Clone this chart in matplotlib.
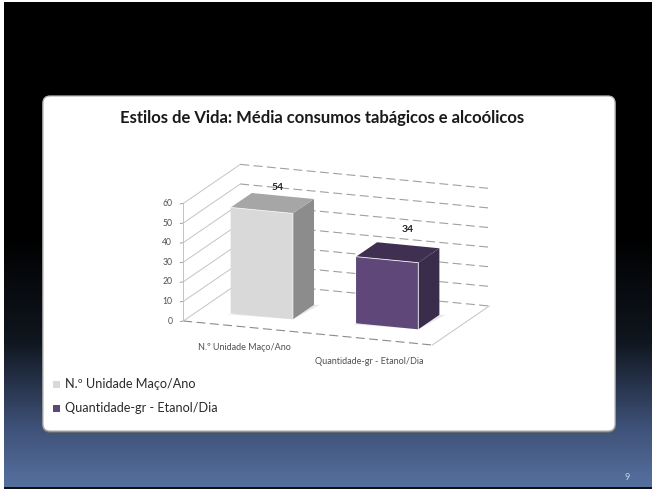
import numpy as np
import matplotlib
matplotlib.use("Agg")
import matplotlib.pyplot as plt
from matplotlib.colors import LinearSegmentedColormap
from matplotlib.patches import FancyBboxPatch, Polygon, Rectangle

# Chart content
title = "Estilos de Vida: Média consumos tabágicos e alcoólicos"
categories = ["N.º Unidade Maço/Ano", "Quantidade-gr - Etanol/Dia"]
values = [54, 34]
value_ticks = [0, 10, 20, 30, 40, 50, 60]
page_number = "9"

# Colours of each bar: front, top, side
bar_colors = [("#d9d9d9", "#a6a6a6", "#8c8c8c"), ("#5f4879", "#3f3051", "#3a2c4b")]
legend_colors = ["#d9d9d9", "#5f4879"]

# Oblique projection of the 3D plot box, in figure pixels
origin = np.array([183.3, 321.0])
run = np.array([249.0, 24.0])      # along the category axis
deep = np.array([57.0, -39.0])     # from front wall to back wall
unit = np.array([0.0, -1.96])      # per unit of value


def project(a, b, v=0.0):
    return origin + a * run + b * deep + v * unit


fig = plt.figure(figsize=(6.52, 4.90), dpi=100, facecolor="white")
ax = fig.add_axes([0, 0, 1, 1])
ax.axis("off")

# Slide background
stops = [(0.0, "#000000"), (0.48, "#000000"), (0.70, "#10161f"),
         (0.88, "#3f5279"), (1.0, "#56719f")]
ramp = LinearSegmentedColormap.from_list("slide", stops)
ax.imshow(np.linspace(0, 1, 485)[:, None], cmap=ramp, vmin=0, vmax=1,
          extent=(4, 652, 488, 3), aspect="auto", zorder=0)
ax.add_patch(Rectangle((4, 487), 648, 1.5, fc="#101010", ec="none", zorder=1))
ax.set_xlim(0, 652)
ax.set_ylim(490, 0)

# Rounded white card with a soft rim and a darker lower edge
ax.add_patch(FancyBboxPatch((49, 103), 560, 323, boxstyle="round,pad=6,rounding_size=7",
                            fc="#6e6e6e", ec="#6e6e6e", lw=1.2, zorder=1.5))
ax.add_patch(FancyBboxPatch((49, 102), 560, 323, boxstyle="round,pad=6,rounding_size=7",
                            fc="#ffffff", ec="#b4b4b4", lw=0.9, zorder=2))

ax.text(322, 118, title, ha="center", va="center", fontsize=12, fontweight="bold",
        family="Lato", color="#1a1a1a", zorder=3)

# Walls and floor of the plot box
grid_color = "#a0a0a0"
for t in value_ticks:
    front, back, right = project(0, 0, t), project(0, 1, t), project(1, 1, t)
    ax.plot([front[0], back[0]], [front[1], back[1]], color="#c4c4c4", lw=0.7, zorder=3)
    ax.plot([back[0], right[0]], [back[1], right[1]], color=grid_color, lw=0.8,
            ls=(0, (8, 4)), zorder=3)
    ax.plot([front[0] - 3, front[0]], [front[1] + 0.5, front[1]], color="#909090", lw=0.6, zorder=3)
    ax.text(front[0] - 11, front[1], str(t), ha="right", va="center", fontsize=6.2,
            family="Lato", color="#505050", zorder=3)

a0, a1, a2 = project(0, 0), project(1, 0), project(1, 1)
ax.plot([a0[0], a1[0]], [a0[1], a1[1]], color="#8a8a8a", lw=0.8, ls=(0, (8, 4)), zorder=3)
ax.plot([a1[0], a2[0]], [a1[1], a2[1]], color="#c4c4c4", lw=0.7, zorder=3)
top0, low0 = project(0, 0, value_ticks[-1]), project(0, 0)
ax.plot([top0[0], low0[0]], [top0[1], low0[1]], color="#c4c4c4", lw=0.7, zorder=3)

# Bars as three visible faces of a box
bar_left = [0.127, 0.62]
bar_front = [0.276, 0.322]
bar_width = 0.25
bar_depth = 0.37
label_pos = [(278, 187), (408, 229)]

for i, v in enumerate(values):
    a, b = bar_left[i], bar_front[i]
    front_c, top_c, side_c = bar_colors[i]
    fl0, fr0 = project(a, b), project(a + bar_width, b)
    fl1, fr1 = project(a, b, v), project(a + bar_width, b, v)
    bl1, br1 = project(a, b + bar_depth, v), project(a + bar_width, b + bar_depth, v)
    br0 = project(a + bar_width, b + bar_depth)
    ax.add_patch(Polygon([fl0 + [-4, 1], fr0, br0 + [6, 0], br0], fc="#e8e8e8", ec="none", zorder=3.5))
    ax.add_patch(Polygon([fr0, fr1, br1, br0], fc=side_c, ec="none", zorder=4))
    ax.add_patch(Polygon([fl1, fr1, br1, bl1], fc=top_c, ec="none", zorder=4))
    ax.add_patch(Polygon([fl0, fr0, fr1, fl1], fc=front_c, ec="none", zorder=4))
    ax.plot([fl1[0], fr1[0], fr0[0]], [fl1[1], fr1[1], fr0[1]], color="#f2f2f2", lw=0.6, zorder=5)
    ax.text(*label_pos[i], str(v), ha="center", va="center", fontsize=7.5,
            fontweight="bold", family="Lato", color="#222222", zorder=6)

# Category labels under the floor
cat_pos = [(244, 347), (369, 361)]
for name, (x, y) in zip(categories, cat_pos):
    ax.text(x, y, name, ha="center", va="center", fontsize=6.5, family="Lato",
            color="#505050", zorder=3)

# Legend
legend_y = [384, 408]
for name, c, y in zip(categories, legend_colors, legend_y):
    ax.add_patch(Rectangle((53, y - 3.5), 7, 7, fc=c, ec="none", zorder=3))
    ax.text(65, y, name, ha="left", va="center", fontsize=9.1, family="Lato",
            color="#2a2a2a", zorder=3)

ax.text(627, 477, page_number, ha="center", va="center", fontsize=6.5, family="Lato",
        color="#c8d0dc", zorder=3)

fig.savefig("out.png", dpi=100)
